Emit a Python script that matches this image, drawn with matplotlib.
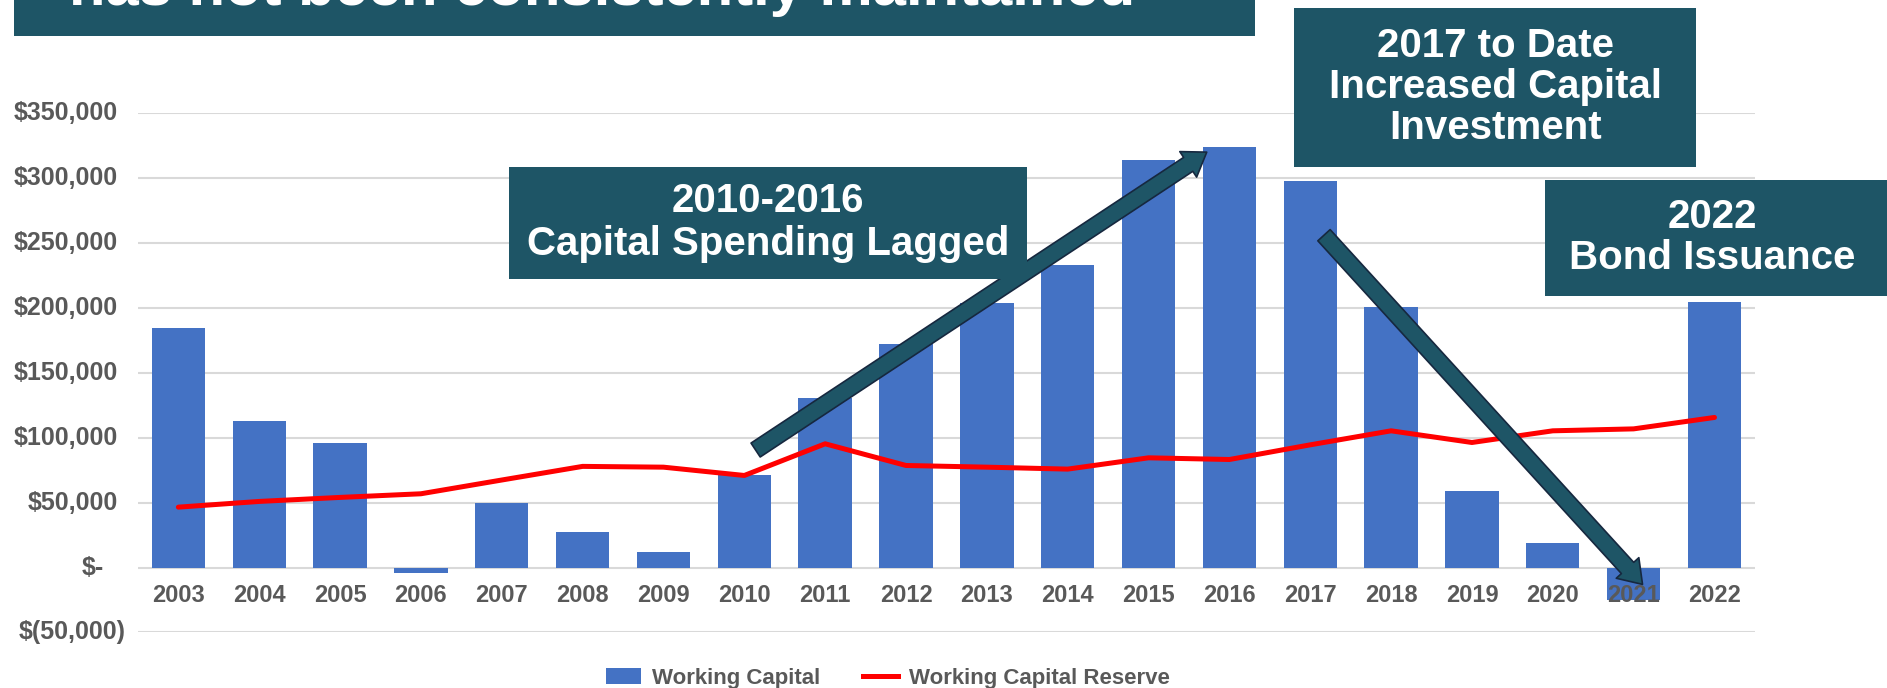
import numpy as np
import matplotlib.pyplot as plt
from matplotlib.patches import Rectangle, Patch
from matplotlib.lines import Line2D
from matplotlib.transforms import ScaledTranslation

plt.rcParams['font.family'] = ['Liberation Sans', 'DejaVu Sans']

# data
years = [str(y) for y in range(2003, 2023)]
working_capital = [184500, 113000, 95800, -4000, 49600, 27700, 11800, 71600, 130200, 172000,
                   204000, 233000, 314000, 324300, 297400, 200300, 59300, 18700, -25000, 204700]
capital_reserve = [46500, 50900, 54000, 56800, 67400, 77900, 77300, 70900, 95300, 78600,
                   77300, 75800, 84500, 83200, 94500, 105300, 96300, 105300, 106800, 115600]
y_ticks = [-50000, 0, 50000, 100000, 150000, 200000, 250000, 300000, 350000]

teal = '#1E5566'
grey = '#595959'

fig = plt.figure(figsize=(18.87, 6.88), dpi=100)
ax = fig.add_axes([0.0731, 0.0808, 0.8569, 0.7547])

x = np.arange(len(years))
ax.bar(x, working_capital, width=0.66, color='#4472C4', zorder=1)
ax.plot(x, capital_reserve, color='#FF0000', lw=3.6, solid_capstyle='round', zorder=3)

ax.set_xlim(-0.5, len(years) - 0.5)
ax.set_ylim(-50000, 350000)
for v in y_ticks:
    ax.axhline(v, color='#D9D9D9', lw=1.5, zorder=0)

for s in ['left', 'right', 'top']:
    ax.spines[s].set_visible(False)
ax.spines['bottom'].set_position(('data', 0))
ax.spines['bottom'].set_visible(False)
ax.set_xticks(x)
ax.set_xticklabels(years, fontsize=17, fontweight='bold', color=grey)
ax.tick_params(axis='x', length=0, pad=12)
ax.xaxis.set_zorder(4)
ax.set_yticks([])

# accounting style y labels
def money(v):
    if v == 0:
        return '$-'
    if v < 0:
        return '$({:,})'.format(-v)
    return '${:,}'.format(v)

for v in y_ticks:
    if v == 0:
        off = -34
    elif v < 0:
        off = -12.5
    else:
        off = -20.5
    tr = ax.get_yaxis_transform() + ScaledTranslation(off / 100, 0, fig.dpi_scale_trans)
    ax.text(0, v, money(v), transform=tr, ha='right', va='center',
            fontsize=18, fontweight='bold', color=grey)

# arrows
arrow_kw = dict(arrowstyle='simple,head_length=1.6,head_width=2.2,tail_width=1.2',
                mutation_scale=10, fc=teal, ec='#16283F', lw=1.2, shrinkA=0, shrinkB=0)
ax.annotate('', xy=(12.72, 320000), xytext=(7.14, 90500), arrowprops=arrow_kw,
            zorder=6, annotation_clip=False)
ax.annotate('', xy=(18.11, -13000), xytext=(14.17, 256000), arrowprops=arrow_kw,
            zorder=6, annotation_clip=False)

# callout boxes
def callout(x0, y0, w, h, tx, ty, text, size=29, ls=1.1):
    fig.patches.append(Rectangle((x0, y0), w, h, transform=fig.transFigure,
                                 facecolor=teal, edgecolor='none', zorder=4))
    fig.text(tx, ty, text, ha='center', va='center', color='white', fontsize=size,
             fontweight='bold', linespacing=ls, zorder=5)

callout(0.0074, 0.9477, 0.6577, 0.06, 0, 0, '')
fig.text(0.0366, 0.9927, 'has not been consistently maintained', ha='left', va='baseline',
         color='white', fontsize=43, fontweight='bold', zorder=5)
callout(0.2697, 0.5945, 0.2745, 0.1628, 0.407, 0.6766, '2010-2016\nCapital Spending Lagged', ls=1.15)
callout(0.6857, 0.7573, 0.2130, 0.2311, 0.7923, 0.8735, '2017 to Date\nIncreased Capital\nInvestment')
callout(0.8188, 0.5698, 0.1812, 0.1686, 0.9073, 0.6548, '2022\nBond Issuance')

handles = [Patch(facecolor='#4472C4', label='Working Capital'),
           Line2D([], [], color='#FF0000', lw=3.6, label='Working Capital Reserve')]
fig.legend(handles=handles, loc='center', bbox_to_anchor=(0.4706, 0.0145), ncol=2,
           frameon=False, handlelength=1.6, handletextpad=0.5, columnspacing=1.9,
           prop={'weight': 'bold', 'size': 16}, labelcolor=grey)

fig.savefig('out.png', dpi=100)
